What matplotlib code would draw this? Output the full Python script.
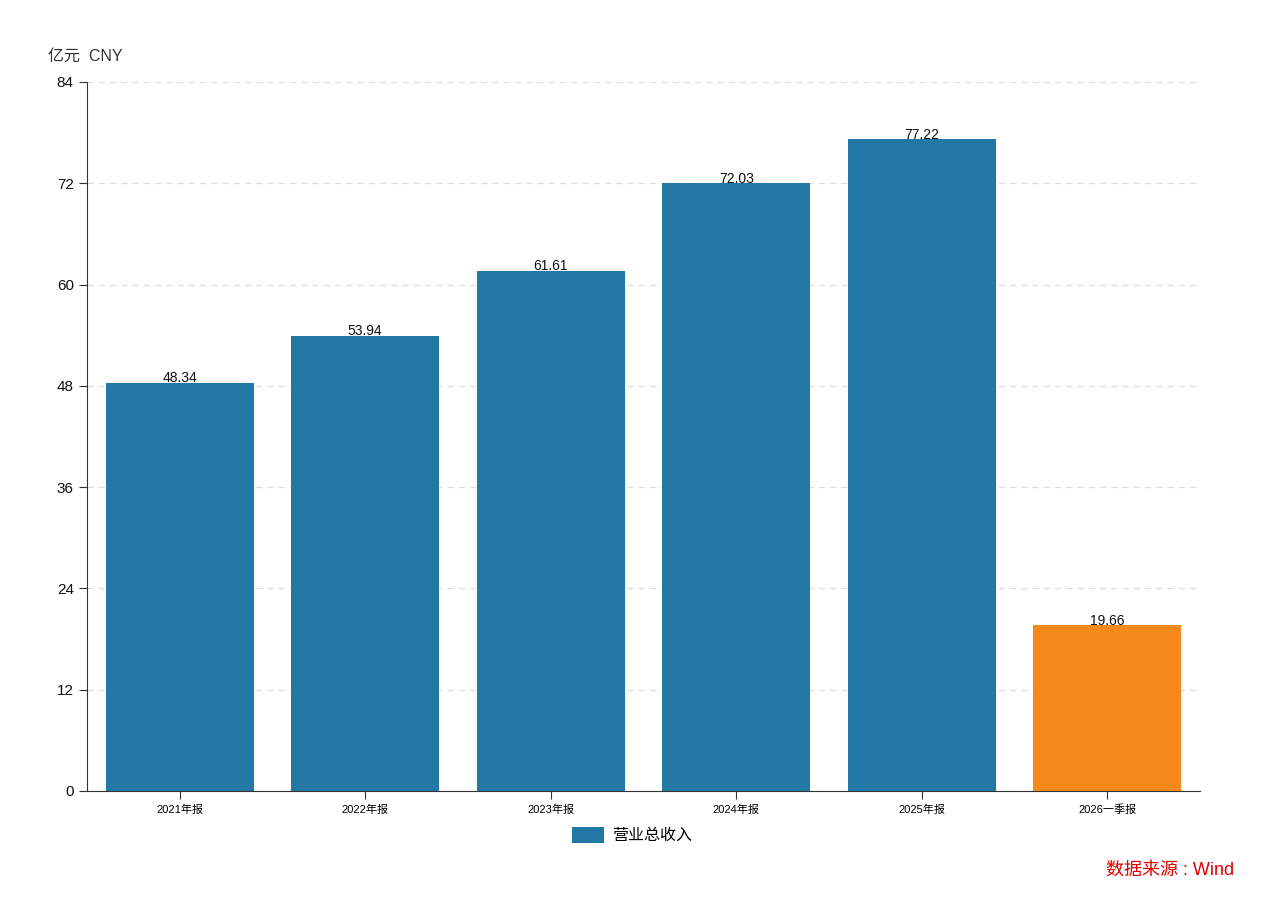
import matplotlib
matplotlib.use("Agg")
import matplotlib.pyplot as plt
import numpy as np

plt.rcParams["font.family"] = ["Liberation Sans", "Noto Sans CJK SC", "DejaVu Sans"]

periods = ["2021年报", "2022年报", "2023年报", "2024年报", "2025年报", "2026一季报"]
revenue = [48.34, 53.94, 61.61, 72.03, 77.22, 19.66]
bar_colors = ["#2377a4", "#2377a4", "#2377a4", "#2377a4", "#2377a4", "#f5891a"]
y_ticks = [0, 12, 24, 36, 48, 60, 72, 84]

fig = plt.figure(figsize=(12.68, 8.98), dpi=100)
ax = fig.add_axes([0.0686, 0.1192, 0.8778, 0.7895])

x = np.arange(len(periods))
bars = ax.bar(x, revenue, width=0.8, color=bar_colors, label="营业总收入", zorder=3)
for xi, v in zip(x, revenue):
    ax.text(xi, v - 0.3, f"{v:.2f}", ha="center", va="bottom", fontsize=10, color="#111111", zorder=4)

ax.set_xlim(-0.5, len(periods) - 0.5)
ax.set_ylim(0, 84)
ax.set_yticks(y_ticks)
ax.set_xticks(x)
ax.set_xticklabels(periods, fontsize=8)
ax.tick_params(axis="y", labelsize=11, length=6, color="#333333", labelcolor="#111111")
ax.tick_params(axis="x", length=6, color="#333333")
ax.yaxis.grid(True, linestyle=(0, (5, 4)), color="#dddddd", linewidth=0.9, zorder=0)
for s in ["top", "right"]:
    ax.spines[s].set_visible(False)
for s in ["left", "bottom"]:
    ax.spines[s].set_color("#333333")

fig.text(0.038, 0.937, "亿元  CNY", fontsize=11.5, color="#333333", ha="left", va="center")

leg = ax.legend(loc="upper center", bbox_to_anchor=(0.49, -0.03), frameon=False,
                fontsize=11.5, handlelength=2.0, handleheight=1.2, handletextpad=0.5)
fig.text(0.973, 0.031, "数据来源 : Wind", fontsize=13, color="#e00000",
         ha="right", va="center")

plt.savefig("out.png", facecolor="white")
